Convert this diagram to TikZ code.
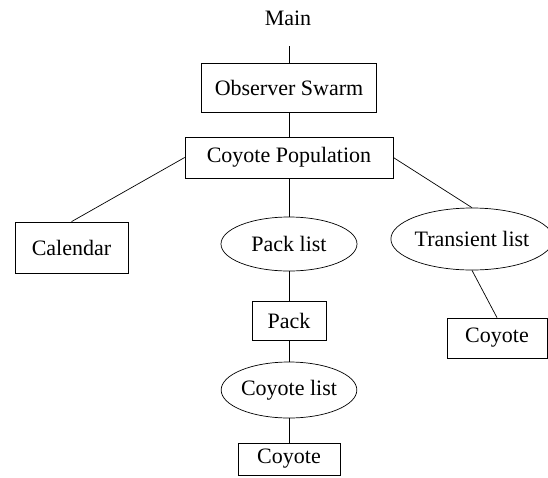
\documentclass[tikz,border=0pt]{standalone}
\usepackage{fontspec}
\setmainfont{Liberation Serif}
\usetikzlibrary{shapes.geometric}
\begin{document}
\begin{tikzpicture}[x=1pt,y=-1pt,
  every node/.style={font=\fontsize{22}{26}\selectfont, inner sep=0pt},
  boxnode/.style={draw, rectangle, line width=0.7pt},
  ellnode/.style={draw, ellipse, line width=0.7pt},
  conn/.style={line width=0.7pt}]
\useasboundingbox (0,0) rectangle (548,477);
\node (main) at (288,18) {Main};
\coordinate (mainend) at (289,46);
\node[boxnode, minimum width=175pt, minimum height=49pt] (os) at (289,87.5) {Observer Swarm};
\node[boxnode, minimum width=208pt, minimum height=41pt] (cp) at (289,157.5) {Coyote Population};
\node[boxnode, minimum width=113pt, minimum height=51pt] (cal) at (71.5,247.5) {Calendar};
\node[ellnode, minimum width=136pt, minimum height=54pt] (pl) at (289,244) {Pack list};
\node[ellnode, minimum width=150pt, minimum height=62pt] (tl) at (472,239) {Transient list};
\node[boxnode, minimum width=74pt, minimum height=39pt] (pack) at (289,320.5) {Pack};
\node[boxnode, minimum width=100pt, minimum height=40pt] (coyr) at (497,338) {Coyote};
\node[ellnode, minimum width=130pt, minimum height=56pt] (cl) at (289,390) {Coyote list};
\node[boxnode, minimum width=102pt, minimum height=32pt] (coyb) at (289,459) {Coyote};
\draw[conn] (mainend) -- (os.north);
\draw[conn] (os.south) -- (cp.north);
\draw[conn] (cp.west) -- (cal.north);
\draw[conn] (cp.east) -- (tl.north);
\draw[conn] (cp.south) -- (pl.north);
\draw[conn] (pl.south) -- (pack.north);
\draw[conn] (pack.south) -- (cl.north);
\draw[conn] (cl.south) -- (coyb.north);
\draw[conn] (tl.south) -- (coyr.north);
\end{tikzpicture}
\end{document}
